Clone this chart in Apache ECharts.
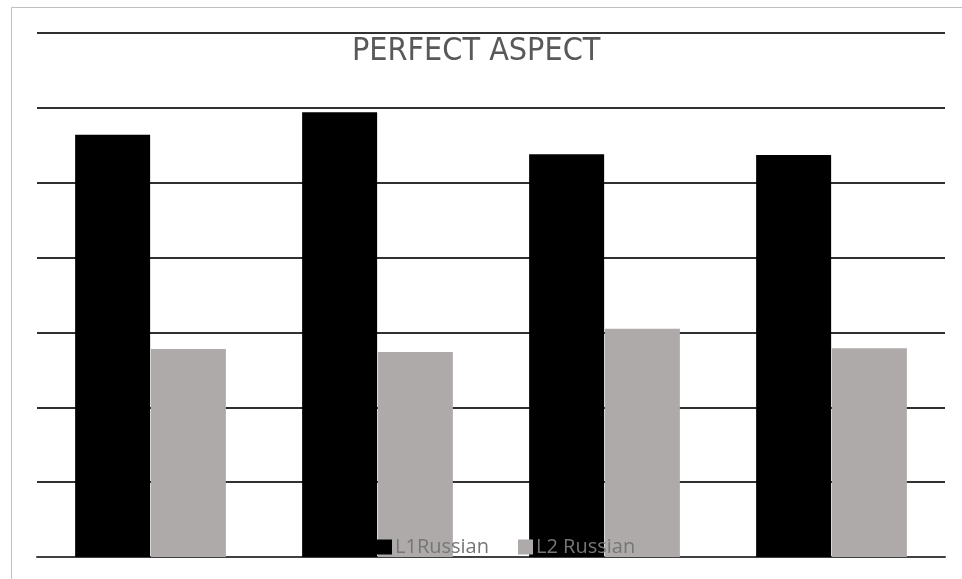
<!DOCTYPE html>
<html>
<head>
<meta charset="utf-8">
<title>Perfect Aspect</title>
<script src="https://cdn.jsdelivr.net/npm/echarts@6/dist/echarts.min.js"></script>
<style>
  html, body { margin: 0; padding: 0; background: #ffffff; }
  #chart { width: 962px; height: 579px; }
</style>
</head>
<body>
<div id="chart"></div>
<script>
// Groups along the x axis (no visible labels)
const categories = ['1', '2', '3', '4'];
// Scores per speaker group
const l1Russian = [56.4, 59.4, 53.8, 53.7];
const l2Russian = [27.8, 27.4, 30.5, 27.9];
// Value axis range
const axisMin = 0;
const axisMax = 70;
const axisStep = 10;

const chart = echarts.init(document.getElementById('chart'));
chart.setOption({
  backgroundColor: '#ffffff',
  animation: false,
  title: {
    text: 'PERFECT ASPECT',
    left: 347,
    top: 31,
    textStyle: {
      fontFamily: 'DejaVu Sans Condensed, Liberation Sans Narrow, sans-serif',
      fontWeight: 'normal',
      fontSize: 32,
      color: '#595959'
    }
  },
  graphic: [{
    type: 'rect',
    shape: { x: 11.5, y: 7.5, width: 980, height: 600 },
    style: { fill: 'none', stroke: '#bfbfbf', lineWidth: 1 },
    silent: true
  }],
  legend: {
    left: 372,
    top: 532,
    itemWidth: 15,
    itemHeight: 15,
    itemGap: 29,
    icon: 'rect',
    textStyle: {
      fontFamily: 'Open Sans, sans-serif',
      fontSize: 20,
      color: '#767676',
      padding: [0, 0, 0, -2]
    },
    data: ['L1Russian', 'L2 Russian']
  },
  grid: { left: 37, right: 17, top: 33, bottom: 22 },
  xAxis: {
    type: 'category',
    data: categories,
    axisLine: { show: true, lineStyle: { color: '#404040', width: 2 } },
    axisTick: { show: false },
    axisLabel: { show: false }
  },
  yAxis: {
    type: 'value',
    min: axisMin,
    max: axisMax,
    interval: axisStep,
    axisLine: { show: false },
    axisTick: { show: false },
    axisLabel: { show: false },
    splitLine: { lineStyle: { color: '#303030', width: 2 } }
  },
  series: [
    {
      name: 'L1Russian',
      type: 'bar',
      data: l1Russian,
      barWidth: 75,
      barGap: '1%',
      itemStyle: { color: '#000000' },
      z: 3
    },
    {
      name: 'L2 Russian',
      type: 'bar',
      data: l2Russian,
      barWidth: 75,
      itemStyle: { color: '#aeaaaa' },
      z: 3
    }
  ]
});
</script>
</body>
</html>
